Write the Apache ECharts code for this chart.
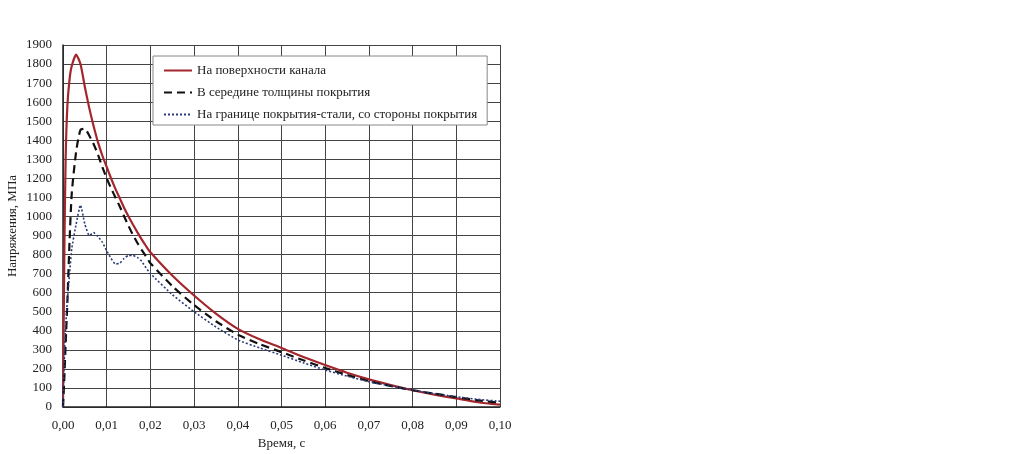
<!DOCTYPE html>
<html>
<head>
<meta charset="utf-8">
<script src="https://cdn.jsdelivr.net/npm/echarts@6/dist/echarts.min.js"></script>
<style>
  html, body { margin: 0; padding: 0; background: #fff; }
  #chart { width: 1036px; height: 454px; }
</style>
</head>
<body>
<div id="chart"></div>
<script>
// время, с
const timeS = [0, 0.0003, 0.0006, 0.001, 0.0015, 0.002, 0.003, 0.004, 0.005, 0.006,
  0.007, 0.008, 0.009, 0.01, 0.011, 0.012, 0.013, 0.014, 0.015, 0.016,
  0.017, 0.018, 0.019, 0.02, 0.025, 0.03, 0.035, 0.04, 0.045, 0.05,
  0.055, 0.06, 0.065, 0.07, 0.075, 0.08, 0.085, 0.09, 0.095, 0.1];

// напряжения, МПа
const surface = [0, 800, 1300, 1580, 1720, 1790, 1850, 1800, 1680, 1570,
  1475, 1390, 1320, 1260, 1200, 1145, 1095, 1045, 1000, 958,
  918, 880, 845, 812, 690, 585, 490, 410, 355, 310,
  262, 220, 180, 145, 115, 88, 65, 45, 25, 12];

const middle = [0, 150, 330, 550, 870, 1120, 1340, 1455, 1460, 1425,
  1380, 1325, 1260, 1200, 1148, 1100, 1052, 1000, 950, 903,
  862, 825, 790, 755, 635, 535, 450, 380, 330, 288,
  245, 205, 168, 135, 110, 88, 70, 52, 35, 22];

const boundary = [0, 250, 420, 560, 700, 830, 960, 1060, 960, 900,
  915, 895, 865, 820, 780, 750, 755, 780, 795, 795,
  785, 765, 730, 700, 590, 500, 420, 352, 310, 272,
  232, 194, 162, 133, 110, 89, 70, 54, 40, 30];

const seriesNames = [
  'На поверхности канала',
  'В середине толщины покрытия',
  'На границе покрытия-стали, со стороны покрытия'
];

const fontFamily = 'Liberation Serif';
const textColor = '#222';
const gridColor = '#444';

const pairs = (ys) => timeS.map((t, i) => [t, ys[i]]);

const chart = echarts.init(document.getElementById('chart'), null, { renderer: 'canvas' });

chart.setOption({
  animation: false,
  backgroundColor: '#fff',
  grid: { left: 63, right: 536, top: 45, bottom: 47, outerBoundsMode: 'none' },
  legend: {
    orient: 'vertical',
    left: 153,
    top: 56,
    padding: [8, 10, 4, 10],
    itemGap: 9,
    itemWidth: 28,
    itemHeight: 14,
    itemStyle: { opacity: 0 },
    backgroundColor: '#fff',
    borderColor: '#888',
    borderWidth: 1,
    textStyle: { fontFamily: fontFamily, fontSize: 13, color: textColor },
    data: seriesNames
  },
  xAxis: {
    type: 'value',
    min: 0,
    max: 0.1,
    interval: 0.01,
    name: 'Время, с',
    nameLocation: 'middle',
    nameGap: 30,
    nameTextStyle: { fontFamily: fontFamily, fontSize: 13, color: textColor },
    axisLine: { lineStyle: { color: '#222', width: 1.5 } },
    axisTick: { show: false },
    axisLabel: {
      margin: 12,
      fontFamily: fontFamily, fontSize: 13, color: textColor,
      formatter: (v) => v.toFixed(2).replace('.', ',')
    },
    splitLine: { show: true, lineStyle: { color: gridColor, width: 1 } }
  },
  yAxis: {
    type: 'value',
    min: 0,
    max: 1900,
    interval: 100,
    name: 'Напряжения, МПа',
    nameLocation: 'middle',
    nameGap: 44,
    nameTextStyle: { fontFamily: fontFamily, fontSize: 13, color: textColor },
    axisLine: { show: true, lineStyle: { color: '#222', width: 1.5 } },
    axisTick: { show: false },
    axisLabel: {
      margin: 11, fontFamily: fontFamily, fontSize: 13, color: textColor,
      formatter: (v) => String(v)
    },
    splitLine: { show: true, lineStyle: { color: gridColor, width: 1 } }
  },
  series: [
    {
      name: seriesNames[0],
      type: 'line',
      data: pairs(surface),
      symbol: 'none',
      smooth: 0.2,
      color: '#a3262c',
      lineStyle: { color: '#a3262c', width: 2.2 }
    },
    {
      name: seriesNames[1],
      type: 'line',
      data: pairs(middle),
      symbol: 'none',
      smooth: 0.2,
      color: '#111',
      lineStyle: { color: '#111', width: 2.2, type: [8, 5] }
    },
    {
      name: seriesNames[2],
      type: 'line',
      data: pairs(boundary),
      symbol: 'none',
      smooth: 0.15,
      color: '#2b3a78',
      lineStyle: { color: '#2b3a78', width: 1.6, type: [2, 2] }
    }
  ]
});
</script>
</body>
</html>
